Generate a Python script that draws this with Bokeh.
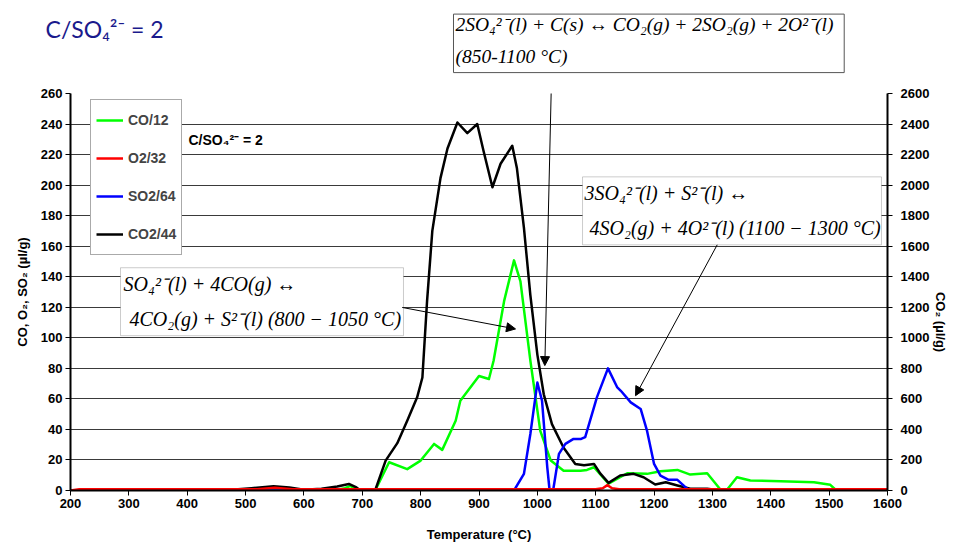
import math
from bokeh.plotting import figure
from bokeh.models import (Range1d, LinearAxis, SingleIntervalTicker, Label, Arrow,
                          NormalHead, Legend, LegendItem, BoxAnnotation)
from bokeh.embed import file_html
from bokeh.resources import INLINE

# ---------------- data ----------------
temp_co = [200, 650, 670, 680, 692, 722, 746, 777, 800, 823, 837, 860, 868, 900, 917, 925,
           943, 960, 971, 988, 1005, 1023, 1045, 1074, 1085, 1097, 1122, 1154, 1188, 1211,
           1240, 1262, 1291, 1314, 1325, 1342, 1365, 1417, 1474, 1502, 1511, 1600]
co_12 = [0, 0, 1.5, 3, 0, 0, 18.5, 14, 19.6, 30.5, 26.6, 45.7, 58.8, 75, 73, 85,
         124, 150.7, 137, 85, 39, 19.6, 13, 13, 13.5, 15.2, 4.4, 11.3, 10.9, 12.6,
         13.5, 10.4, 11.3, 0.5, 0.5, 8.7, 6.5, 6.1, 5.4, 3.7, 0.5, 0.5]

temp_o2 = [200, 215, 520, 550, 580, 1100, 1112, 1120, 1128, 1140, 1600]
o2_32 = [0, 0.8, 0.8, 1.8, 0.8, 0.8, 1.5, 3.5, 1.5, 0.8, 0.8]

temp_so2 = [200, 960, 977, 988, 1000, 1008, 1017, 1021, 1027, 1037, 1048, 1062, 1075, 1082,
            1097, 1102, 1121, 1137, 1143, 1160, 1177, 1188, 1200, 1211, 1225, 1240, 1257,
            1262, 1600]
so2_64 = [0, 0, 10.9, 37, 70.7, 58.8, 15.2, 0, 0, 24, 30.5, 33.8, 33.8, 35,
          54.4, 61, 80, 67.5, 65.3, 57.7, 53.4, 39, 17.4, 9.8, 7, 7, 1.1,
          0, 0]

temp_co2 = [200, 300, 400, 470, 510, 548, 575, 600, 630, 657, 677, 690, 697, 722, 740, 760,
            777, 794, 803, 811, 820, 834, 846, 863, 880, 897, 908, 923, 937, 957, 965, 977,
            988, 1000, 1011, 1025, 1045, 1065, 1080, 1097, 1108, 1122, 1142, 1165, 1182,
            1202, 1220, 1240, 1262, 1291, 1314, 1400, 1500, 1600]
co2_44 = [0, 0, 0, 3, 15, 28, 20, 5, 12, 26, 43, 20, 0, 0, 196, 310,
          457, 610, 740, 1240, 1700, 2046, 2240, 2410, 2340, 2400, 2220, 1986, 2140, 2258, 2110, 1720,
          1280, 890, 630, 435, 280, 174, 165, 174, 110, 50, 98, 109, 87,
          39, 54, 33, 11, 11, 0, 0, 0, 0]

series_names = ["CO/12", "O2/32", "SO2/64", "CO2/44"]
series_colors = ["#00FF00", "#FF0000", "#0000FF", "#000000"]

x_title = "Temperature (°C)"
y_title_left = "CO, O₂, SO₂ (µl/g)"
y_title_right = "CO₂ (µl/g)"
ratio_text = "C/SO₄²⁻ = 2"
eq1 = ["2SO₄²⁻(l) + C(s)  ↔  CO₂(g) + 2SO₂(g) + 2O²⁻(l)", "(850-1100 °C)"]
eq2 = ["SO₄²⁻(l) + 4CO(g)  ↔", "4CO₂(g) + S²⁻(l)  (800 − 1050 °C)"]
eq3 = ["3SO₄²⁻(l) + S²⁻(l)  ↔", "4SO₂(g) + 4O²⁻(l)  (1100 − 1300 °C)"]

# ---------------- figure ----------------
FONT = "Liberation Sans"
p = figure(width=958, height=552, output_backend="svg", toolbar_location=None,
           x_range=Range1d(200, 1600), y_range=Range1d(0, 260),
           min_border_left=70, min_border_right=71, min_border_top=93, min_border_bottom=62,
           outline_line_color=None, background_fill_color="white")
p.extra_y_ranges = {"co2": Range1d(0, 2600)}

p.xgrid.grid_line_color = None
p.ygrid.grid_line_color = "#3a3a3a"
p.ygrid.grid_line_width = 1
p.xaxis.ticker = SingleIntervalTicker(interval=100, num_minor_ticks=0)
p.yaxis.ticker = SingleIntervalTicker(interval=20, num_minor_ticks=0)

right = LinearAxis(y_range_name="co2", ticker=SingleIntervalTicker(interval=200, num_minor_ticks=0))
p.add_layout(right, "right")

for ax in [p.xaxis[0], p.yaxis[0], right]:
    ax.axis_line_color = "black"
    ax.axis_line_width = 2
    ax.major_tick_line_color = "black"
    ax.major_tick_line_width = 1
    ax.major_tick_in = 0
    ax.major_tick_out = 5
    ax.minor_tick_line_color = None
    ax.major_label_text_font = FONT
    ax.major_label_text_font_style = "bold"
    ax.major_label_text_font_size = "13px"
    ax.major_label_text_color = "black"
    ax.axis_label_text_font = FONT
    ax.axis_label_text_font_style = "bold"
    ax.axis_label_text_font_size = "13px"
    ax.axis_label_text_color = "black"

p.xaxis.axis_label = x_title
p.xaxis.major_label_standoff = 3
p.xaxis.axis_label_standoff = 16
p.yaxis[0].axis_label = y_title_left
p.yaxis[0].major_label_standoff = 3
p.yaxis[0].axis_label_standoff = 8
right.axis_label = y_title_right
right.major_label_standoff = 8
right.axis_label_standoff = 8
try:
    right.axis_label_orientation = -math.pi / 2
except Exception:
    pass

# ---------------- lines ----------------
LW = 2.5
r_co = p.line(temp_co, co_12, color=series_colors[0], line_width=LW, line_join="round")
r_co2 = p.line(temp_co2, co2_44, color=series_colors[3], line_width=LW, line_join="round",
               y_range_name="co2")
r_so2 = p.line(temp_so2, so2_64, color=series_colors[2], line_width=LW, line_join="round")
r_o2 = p.line(temp_o2, o2_32, color=series_colors[1], line_width=LW, line_join="round")

legend = Legend(items=[LegendItem(label=series_names[0], renderers=[r_co]),
                       LegendItem(label=series_names[1], renderers=[r_o2]),
                       LegendItem(label=series_names[2], renderers=[r_so2]),
                       LegendItem(label=series_names[3], renderers=[r_co2])],
                location=(20, 235), orientation="vertical",
                label_text_font=FONT, label_text_font_style="bold", label_text_font_size="14px",
                glyph_width=27, glyph_height=30, label_height=30, spacing=8, padding=5,
                margin=0, label_standoff=5, border_line_color="#555555", border_line_width=1,
                background_fill_color="white", background_fill_alpha=1)
p.add_layout(legend)

# ---------------- texts inside the frame ----------------
p.add_layout(Label(x=402.2, y=229.6, text=ratio_text, text_font=FONT, text_font_style="bold",
                   text_font_size="14px", text_color="black", text_baseline="middle"))

line_kw = dict(text_font="Liberation Serif", text_font_style="italic", text_font_size="20px",
               text_color="black", text_align="left", text_baseline="middle")
box_style = dict(fill_color="white", fill_alpha=1, line_color="#555555", line_width=1)

# box 2
p.add_layout(BoxAnnotation(left=285.7, right=770.6, top=145.9, bottom=101.4, **box_style))
p.add_layout(Label(x=290.8, y=135.4, text=eq2[0], **line_kw))
p.add_layout(Label(x=301.1, y=112.5, text=eq2[1], **line_kw))
# box 3
p.add_layout(BoxAnnotation(left=1077.4, right=1589.7, top=205.4, bottom=160.9, **box_style))
p.add_layout(Label(x=1080.8, y=195.1, text=eq3[0], **line_kw))
p.add_layout(Label(x=1089.4, y=172.2, text=eq3[1], **line_kw))

head = dict(size=9, fill_color="black", line_color="black")
p.add_layout(Arrow(end=NormalHead(**head), x_start=768.4, y_start=119.9, x_end=962.6, y_end=105.8,
                   line_width=1, line_color="black"))
p.add_layout(Arrow(end=NormalHead(**head), x_start=1308.2, y_start=160.9, x_end=1168.2, y_end=62.1,
                   line_width=1, line_color="black"))
p.add_layout(Arrow(end=NormalHead(**head), x_start=1024.2, y_start=269.5, x_end=1012.8, y_end=81.8,
                   line_width=1, line_color="black"))

# ---------------- texts above the frame (placed in the "above" side panel) ----------------
# box 1: a two-line framed label
p.add_layout(Label(x=856.3, y=312.0, text=eq1[0] + "\n" + eq1[1],
                   text_font="Liberation Serif", text_font_style="italic", text_font_size="19.5px",
                   text_color="black", text_align="left", text_baseline="top",
                   text_line_height=1.5,
                   padding=dict(left=2, right=1, top=0, bottom=6),
                   background_fill_color="white", background_fill_alpha=1,
                   border_line_color="#555555", border_line_width=1), "above")
p.add_layout(Label(x=157.2, y=302.2, text=ratio_text, text_font="Lato", text_font_size="23px",
                   text_color="#1a1a8c", text_baseline="middle", text_align="left"), "above")

open("out.html", "w").write(file_html(p, INLINE))
